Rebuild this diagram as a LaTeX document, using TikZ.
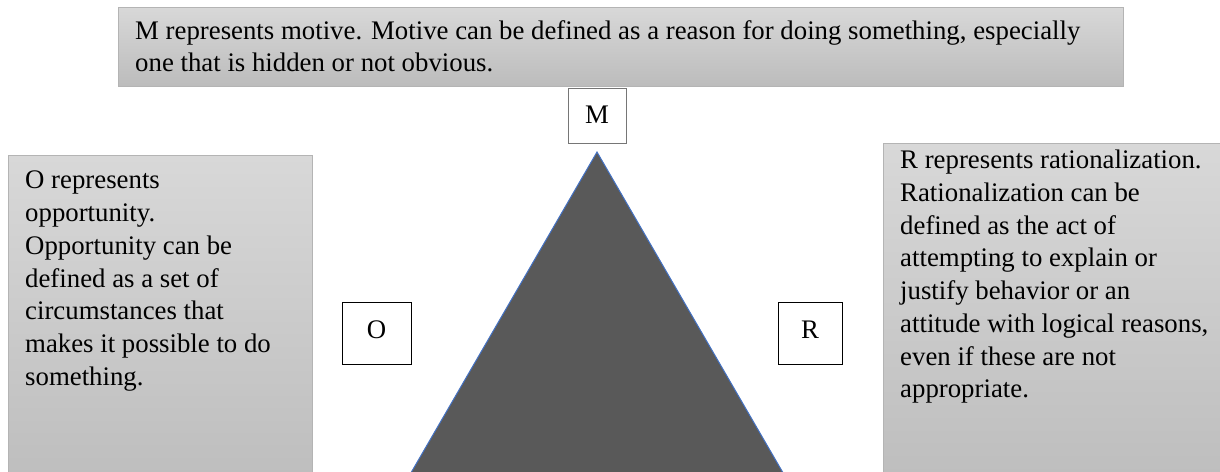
\documentclass[tikz,border=0pt]{standalone}
\usepackage{fontspec}
\setmainfont{Liberation Serif}
\definecolor{panelhi}{RGB}{216,216,216}
\definecolor{panello}{RGB}{188,188,188}
\definecolor{panelline}{RGB}{180,180,180}
\definecolor{trifill}{RGB}{89,89,89}
\definecolor{triedge}{RGB}{68,114,196}
\definecolor{letterline}{RGB}{118,118,118}
\begin{document}
\begin{tikzpicture}[
  x=1pt, y=-1pt,
  panel/.style={draw=panelline, line width=0.8pt, top color=panelhi, bottom color=panello, anchor=north west, inner sep=0pt},
  paneltext/.style={anchor=north west, align=left, inner sep=0pt, font=\fontsize{26.8}{32.7}\selectfont},
  letter/.style={draw, fill=white, line width=0.8pt, inner sep=0pt, minimum height=62pt, text depth=7pt, font=\fontsize{26.8}{30}\selectfont}
]
\clip (0,0) rectangle (1220,471);
% the three gradient panels
\node[panel, minimum width=1005pt, minimum height=79pt] (mpanel) at (118,7) {};
\node[panel, minimum width=304pt, minimum height=345pt] (opanel) at (8,155) {};
\node[panel, minimum width=345pt, minimum height=357pt] (rpanel) at (883,143) {};
\node[paneltext] (mtext) at ([shift={(17,13)}] mpanel.north west)
  {M represents motive. Motive can be defined as a reason for doing something, especially\\one that is hidden or not obvious.};
\node[paneltext] (otext) at ([shift={(17,16)}] opanel.north west)
  {O represents\\opportunity.\\Opportunity can be\\defined as a set of\\circumstances that\\makes it possible to do\\something.};
\node[paneltext] (rtext) at ([shift={(17,7)}] rpanel.north west)
  {R represents rationalization.\\Rationalization can be\\defined as the act of\\attempting to explain or\\justify behavior or an\\attitude with logical reasons,\\even if these are not\\appropriate.};
% triangle
\coordinate (apex) at (597,152);
\fill[trifill, draw=triedge, line width=1pt] (apex) -- (395.2,500) -- (798.8,500) -- cycle;
% letter boxes
\node[letter, draw=letterline, minimum width=58pt, minimum height=55pt, text depth=1pt] (mbox) at (597,115.5) {M};
\node[letter, minimum width=69pt] (obox) at (376.5,333) {O};
\node[letter, minimum width=64pt] (rbox) at (810,333) {R};
\end{tikzpicture}
\end{document}
